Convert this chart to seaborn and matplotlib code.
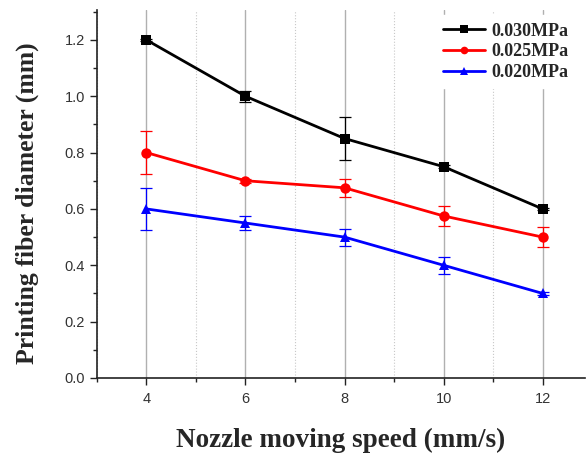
import numpy as np
import pandas as pd
import matplotlib
matplotlib.use('Agg')
import matplotlib.pyplot as plt
import seaborn as sns
from matplotlib.ticker import MultipleLocator

speed = [4, 6, 8, 10, 12]
labels = ['0.030MPa', '0.025MPa', '0.020MPa']
d_030 = [1.20, 1.00, 0.85, 0.75, 0.60]
d_025 = [0.80, 0.70, 0.675, 0.575, 0.50]
d_020 = [0.60, 0.55, 0.50, 0.40, 0.30]
e_030 = [0.005, 0.02, 0.075, 0.005, 0.005]
e_025 = [0.075, 0.008, 0.032, 0.035, 0.035]
e_020 = [0.075, 0.025, 0.03, 0.03, 0.005]

colors = ['black', 'red', 'blue']
markers = ['s', 'o', '^']

df = pd.DataFrame({
    'speed': speed * 3,
    'diameter': d_030 + d_025 + d_020,
    'err': e_030 + e_025 + e_020,
    'pressure': [l for l in labels for _ in speed],
})

sns.set_style('ticks')
plt.rcParams['font.family'] = ['Liberation Sans', 'DejaVu Sans']
serif = ['Liberation Serif', 'DejaVu Serif']

fig = plt.figure(figsize=(5.87, 4.57), dpi=100)
ax = fig.add_axes([0.165, 0.173, 0.832, 0.805])

# grid first so it sits behind
ax.xaxis.set_major_locator(MultipleLocator(2))
ax.xaxis.set_minor_locator(MultipleLocator(1))
ax.yaxis.set_major_locator(MultipleLocator(0.2))
ax.yaxis.set_minor_locator(MultipleLocator(0.1))
ax.grid(True, which='major', axis='x', color='#b0b0b0', lw=1.0, ls='-')
ax.grid(True, which='minor', axis='x', color='#c8c8c8', lw=0.8, ls=':')
ax.set_axisbelow(True)

for lab, c in zip(labels, colors):
    sub = df[df['pressure'] == lab]
    ax.errorbar(sub['speed'], sub['diameter'], yerr=sub['err'], fmt='none',
                ecolor=c, elinewidth=0.9, capsize=4, capthick=0.9, zorder=2)

sns.lineplot(data=df, x='speed', y='diameter', hue='pressure', style='pressure',
             palette=colors, markers=markers, dashes=False, linewidth=2,
             markersize=7.5, markeredgewidth=0, ax=ax, zorder=3)

ax.set_xlim(3, 12.86)
ax.set_ylim(0, 1.306)
ax.set_xticks(speed)
ax.set_xticklabels([str(s) for s in speed])
ax.set_yticks(np.arange(0, 1.21, 0.2))
ax.set_yticklabels(['%.1f' % v for v in np.arange(0, 1.21, 0.2)])
ax.tick_params(axis='both', which='major', direction='out', length=5, width=1,
               labelsize=10.5, colors='#222222', labelcolor='#333333')
ax.tick_params(axis='x', which='major', pad=5)
ax.tick_params(axis='both', which='minor', direction='out', length=3, width=1, colors='#222222')
sns.despine(ax=ax)
for s in ['left', 'bottom']:
    ax.spines[s].set_color('#222222')
    ax.spines[s].set_linewidth(1.2)

ax.set_xlabel('Nozzle moving speed (mm/s)', fontsize=19.5, fontweight='bold',
              family=serif, labelpad=16)
ax.set_ylabel('Printing fiber diameter (mm)', fontsize=18.5, fontweight='bold',
              family=serif)
ax.yaxis.set_label_coords(-0.118, 0.475)

leg = ax.legend(loc='upper right', bbox_to_anchor=(1.0, 1.01), frameon=True,
                prop={'family': serif, 'weight': 'bold', 'size': 13},
                handlelength=2.3, labelspacing=0.2, borderpad=0.4, handletextpad=0.4)
leg.get_frame().set_facecolor('white')
leg.get_frame().set_edgecolor('white')
leg.get_frame().set_alpha(1)
leg.set_zorder(5)
for h in leg.legend_handles:
    h.set_markersize(5.5)

fig.savefig('out.png', dpi=100)
